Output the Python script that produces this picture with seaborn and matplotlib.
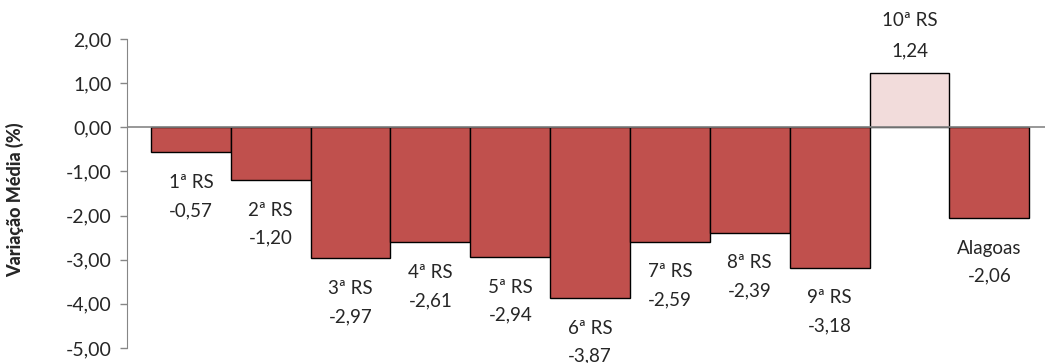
import numpy as np
import pandas as pd
import seaborn as sns
import matplotlib.pyplot as plt
from matplotlib.ticker import FuncFormatter

regioes = ['1ª RS', '2ª RS', '3ª RS', '4ª RS', '5ª RS', '6ª RS',
           '7ª RS', '8ª RS', '9ª RS', '10ª RS', 'Alagoas']
variacao = [-0.57, -1.20, -2.97, -2.61, -2.94, -3.87,
            -2.59, -2.39, -3.18, 1.24, -2.06]

sns.set_style('white')
plt.rcParams['font.family'] = ['Lato', 'DejaVu Sans']

df = pd.DataFrame({'regiao': regioes, 'variacao': variacao})
cores = {r: ('#F2DCDB' if v > 0 else '#C0504D') for r, v in zip(regioes, variacao)}

fig = plt.figure(figsize=(10.47, 3.63), dpi=100)
ax = fig.add_axes([0.1213, 0.0413, 0.877, 0.8513])

sns.barplot(data=df, x='regiao', y='variacao', hue='regiao', palette=cores,
            legend=False, width=1.0, edgecolor='black', linewidth=1.0,
            saturation=1.0, ax=ax)

ax.set_ylim(-5, 2)
ax.set_xlim(-0.8, 10.7)
ax.set_yticks(np.arange(-5, 3, 1))
ax.yaxis.set_major_formatter(FuncFormatter(lambda v, p: f'{v:.2f}'.replace('.', ',')))
ax.tick_params(axis='y', which='major', left=True, length=5, width=1,
               color='#868686', labelsize=14, pad=6)
ax.set_xticks([])
ax.set_xlabel('')
ax.set_ylabel('Variação Média (%)', fontsize=13, fontweight='black')
ax.yaxis.set_label_coords(-0.112, 0.479)

for s in ['top', 'right', 'bottom']:
    ax.spines[s].set_visible(False)
ax.spines['left'].set_color('#868686')
ax.axhline(0, color='#868686', linewidth=1.2, zorder=3)

fs = 13.5
for i, (r, v) in enumerate(zip(regioes, variacao)):
    txt_v = f'{v:.2f}'.replace('.', ',')
    if v < 0:
        offs = (-30, -58)
    else:
        offs = (52, 22)
    ax.annotate(r, (i, v), xytext=(0, offs[0]), textcoords='offset pixels',
                ha='center', va='center', fontsize=fs, annotation_clip=False)
    ax.annotate(txt_v, (i, v), xytext=(0, offs[1]), textcoords='offset pixels',
                ha='center', va='center', fontsize=fs, annotation_clip=False)

fig.savefig('out.png', dpi=100)
